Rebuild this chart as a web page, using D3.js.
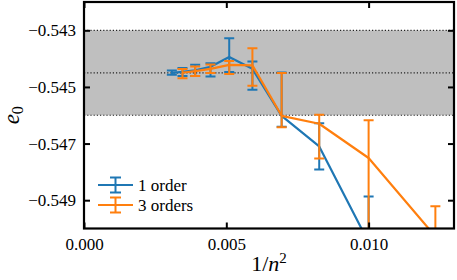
<!DOCTYPE html>
<html>
<head>
<meta charset="utf-8">
<script src="https://cdn.jsdelivr.net/npm/d3@7"></script>
<style>
  body { margin: 0; background: #fff; }
</style>
</head>
<body>
<div id="chart"></div>
<script>
// data (x = 1/n^2)
var nBlue = [18, 17, 16, 15, 14, 13, 12, 11, 10];
var blueMean = [-0.54450, -0.54447, -0.54441, -0.54429, -0.54394, -0.54436, -0.54602, -0.54710, -0.55049];
var blueLow  = [-0.54457, -0.54461, -0.54461, -0.54463, -0.54447, -0.54510, -0.54641, -0.54792, -0.55210];
var blueHigh = [-0.54442, -0.54433, -0.54422, -0.54416, -0.54328, -0.54410, -0.54449, -0.54628, -0.54887];

var nOrange = [17, 16, 15, 14, 13, 12, 11, 10, 9];
var orangeMean = [-0.54450, -0.54444, -0.54436, -0.54422, -0.54424, -0.54602, -0.54630, -0.54751, -0.55028];
var orangeLow  = [-0.54469, -0.54461, -0.54451, -0.54454, -0.54496, -0.54642, -0.54753, -0.55150, -0.55200];
var orangeHigh = [-0.54437, -0.54428, -0.54421, -0.54408, -0.54363, -0.54451, -0.54598, -0.54618, -0.54921];

var band = [-0.543, -0.5445, -0.546];   // top, middle, bottom
var xTicks = [0, 0.005, 0.010];
var yTicks = [-0.543, -0.545, -0.547, -0.549];
var seriesNames = ["1 order", "3 orders"];
var colors = ["#1f77b4", "#ff7f0e"];

var FONT = "Liberation Serif";
var W = 457, H = 280;
var margin = {top: 2, right: 3, bottom: 51.5, left: 84},
    width = W - margin.left - margin.right,
    height = H - margin.top - margin.bottom;

var x = d3.scaleLinear().domain([0, 0.013]).range([0, width]);
var y = d3.scaleLinear().domain([-0.550, -0.542]).range([height, 0]);

var svg = d3.select("#chart").append("svg")
    .attr("width", W)
    .attr("height", H)
    .attr("font-family", FONT);

var g = svg.append("g")
    .attr("transform", "translate(" + margin.left + "," + margin.top + ")");

g.append("clipPath").attr("id", "clip")
  .append("rect").attr("width", width).attr("height", height);

var plot = g.append("g").attr("clip-path", "url(#clip)");

// shaded band + dotted lines
plot.append("rect")
    .attr("x", 0)
    .attr("y", y(band[0]))
    .attr("width", width)
    .attr("height", y(band[2]) - y(band[0]))
    .attr("fill", "#bfbfbf");

plot.selectAll(".hline")
    .data(band)
  .enter().append("line")
    .attr("class", "hline")
    .attr("x1", 0).attr("x2", width)
    .attr("y1", function(d) { return y(d); })
    .attr("y2", function(d) { return y(d); })
    .attr("stroke", "#222")
    .attr("stroke-width", 1.2)
    .attr("stroke-dasharray", "1.2,2");

function build(ns, mean, lo, hi) {
  return ns.map(function(n, i) {
    return {x: 1 / (n * n), m: mean[i], lo: lo[i], hi: hi[i]};
  });
}

var series = [
  build(nBlue, blueMean, blueLow, blueHigh),
  build(nOrange, orangeMean, orangeLow, orangeHigh)
];

var line = d3.line()
    .x(function(d) { return x(d.x); })
    .y(function(d) { return y(d.m); });

var cap = 5;

series.forEach(function(data, k) {
  var s = plot.append("g");
  s.append("path")
      .datum(data)
      .attr("d", line)
      .attr("fill", "none")
      .attr("stroke", colors[k])
      .attr("stroke-width", 2.2)
      .attr("stroke-linejoin", "round");

  var bars = s.selectAll(".bar")
      .data(data)
    .enter().append("g");
  bars.append("line")
      .attr("x1", function(d) { return x(d.x); })
      .attr("x2", function(d) { return x(d.x); })
      .attr("y1", function(d) { return y(d.lo); })
      .attr("y2", function(d) { return y(d.hi); })
      .attr("stroke", colors[k])
      .attr("stroke-width", 2);
  ["lo", "hi"].forEach(function(key) {
    bars.append("line")
        .attr("x1", function(d) { return x(d.x) - cap; })
        .attr("x2", function(d) { return x(d.x) + cap; })
        .attr("y1", function(d) { return y(d[key]); })
        .attr("y2", function(d) { return y(d[key]); })
        .attr("stroke", colors[k])
        .attr("stroke-width", 2);
  });
});

// axes, ticks inward on all sides
var tickLen = 6;
g.append("g")
    .attr("transform", "translate(0," + height + ")")
    .call(d3.axisBottom(x).tickValues(xTicks).tickFormat(d3.format(".3f"))
      .tickSizeInner(-tickLen).tickSizeOuter(0).tickPadding(9));
g.append("g")
    .call(d3.axisTop(x).tickValues(xTicks).tickFormat("")
      .tickSizeInner(-tickLen).tickSizeOuter(0));
g.append("g")
    .call(d3.axisLeft(y).tickValues(yTicks)
      .tickFormat(function(d) { return "\u2212" + d3.format(".3f")(-d); })
      .tickSizeInner(-tickLen).tickSizeOuter(0).tickPadding(8));
g.append("g")
    .attr("transform", "translate(" + width + ",0)")
    .call(d3.axisRight(y).tickValues(yTicks).tickFormat("")
      .tickSizeInner(-tickLen).tickSizeOuter(0));

g.selectAll(".domain").remove();
g.selectAll(".tick line").attr("stroke", "#000").attr("stroke-width", 2);
g.selectAll("g[font-family]").attr("font-family", FONT).attr("font-size", 17);
g.selectAll(".tick text")
    .attr("font-family", FONT)
    .attr("font-size", 17)
    .attr("fill", "#000");

g.append("rect")
    .attr("width", width)
    .attr("height", height)
    .attr("fill", "none")
    .attr("stroke", "#000")
    .attr("stroke-width", 2.2);

// axis labels
svg.append("text")
    .attr("x", margin.left + width / 2)
    .attr("y", 271)
    .attr("text-anchor", "middle")
    .attr("font-family", FONT)
    .attr("font-size", 22)
    .html('1/<tspan font-style="italic">n</tspan><tspan dy="-8" font-size="15">2</tspan>');

svg.append("text")
    .attr("transform", "translate(19," + (margin.top + height / 2) + ") rotate(-90)")
    .attr("text-anchor", "middle")
    .attr("font-family", FONT)
    .attr("font-size", 23)
    .html('<tspan font-style="italic">e</tspan><tspan dy="4" font-size="16">0</tspan>');

// legend
var legend = g.append("g")
    .attr("transform", "translate(14,183)");
seriesNames.forEach(function(name, k) {
  var row = legend.append("g").attr("transform", "translate(0," + (k * 20) + ")");
  row.append("line")
      .attr("x1", 0).attr("x2", 35)
      .attr("stroke", colors[k]).attr("stroke-width", 2.2);
  row.append("line")
      .attr("x1", 17.5).attr("x2", 17.5).attr("y1", -7.5).attr("y2", 7.5)
      .attr("stroke", colors[k]).attr("stroke-width", 2);
  [-7.5, 7.5].forEach(function(dy) {
    row.append("line")
        .attr("x1", 17.5 - 5.5).attr("x2", 17.5 + 5.5)
        .attr("y1", dy).attr("y2", dy)
        .attr("stroke", colors[k]).attr("stroke-width", 2);
  });
  row.append("text")
      .attr("x", 40)
      .attr("y", 5.5)
      .attr("font-family", FONT)
      .attr("font-size", 17)
      .text(name);
});
</script>
</body>
</html>
